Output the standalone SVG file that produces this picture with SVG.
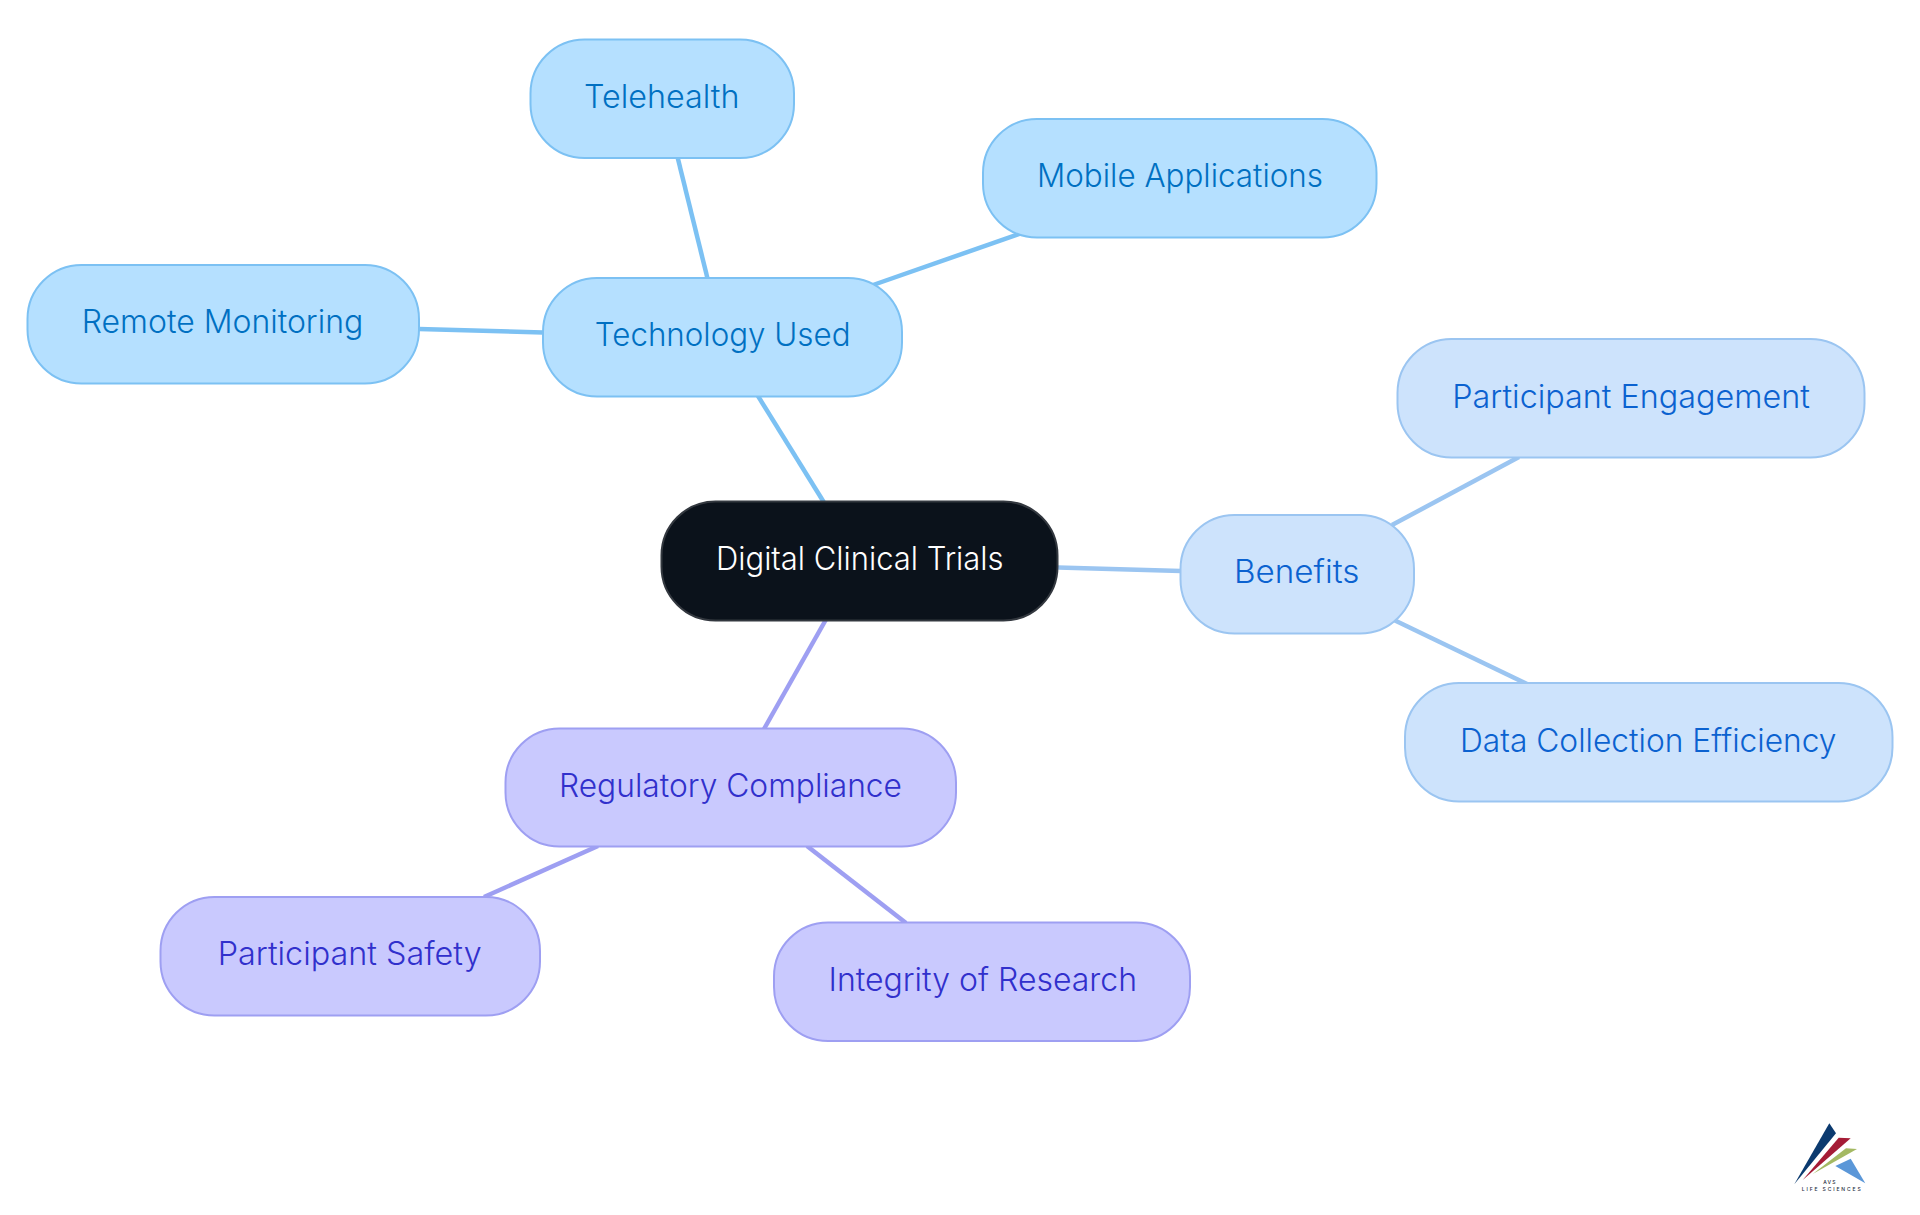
<svg xmlns="http://www.w3.org/2000/svg" width="1920" height="1215" viewBox="0 0 1920 1215">
<style>
text{font-family:Inter,"Noto Sans","Liberation Sans",sans-serif;font-size:32px;font-weight:300}
rect{stroke-width:2}
.e{fill:none;stroke-width:4.5;stroke-linecap:butt}
.ce1{stroke:#7cc1f3}.ce2{stroke:#9bc5f1}.ce3{stroke:#9e9ff2}
.n1 rect{fill:#b5e0ff;stroke:#7cc1f3}.n1 text{fill:#0070c2}
.n2 rect{fill:#cde3fc;stroke:#9bc5f1}.n2 text{fill:#0b62d0}
.n3 rect{fill:#c9c9fe;stroke:#9e9ff2}.n3 text{fill:#3130cc}
.root rect{fill:#0b121b;stroke:#33383f}.root text{fill:#fff}
.logo-t{font-size:5px;font-weight:500;fill:#1b2a3a;text-anchor:middle}
</style>
<rect width="1920" height="1215" fill="#fff" stroke="none"/>
<g id="connectors">
<line class="e ce1" x1="758" y1="396" x2="823.7" y2="502"/>
<line class="e ce1" x1="707.4" y1="278" x2="677.5" y2="157"/>
<line class="e ce1" x1="873" y1="285" x2="1022" y2="233"/>
<line class="e ce1" x1="543" y1="332.5" x2="419" y2="329"/>
<line class="e ce2" x1="1058" y1="567.5" x2="1181" y2="571"/>
<line class="e ce2" x1="1392" y1="525" x2="1519" y2="457"/>
<line class="e ce2" x1="1395" y1="620.5" x2="1527" y2="684"/>
<line class="e ce3" x1="825.7" y1="620" x2="764" y2="729"/>
<line class="e ce3" x1="598" y1="846" x2="484" y2="897"/>
<line class="e ce3" x1="807" y1="846" x2="906" y2="923"/>
</g>
<g id="root" class="root"><rect x="661.5" y="501.5" width="396" height="119" rx="54"/><text x="716" y="570" textLength="287.5" lengthAdjust="spacingAndGlyphs">Digital Clinical Trials</text></g>
<g id="tech" class="n1"><rect x="543" y="278" width="359" height="118.5" rx="54"/><text x="594.8" y="346.3" textLength="255.7" lengthAdjust="spacingAndGlyphs">Technology Used</text></g>
<g id="telehealth" class="n1"><rect x="530.5" y="39.5" width="263.5" height="118.5" rx="54"/><text x="584" y="107.7" textLength="155.5" lengthAdjust="spacingAndGlyphs">Telehealth</text></g>
<g id="mobile" class="n1"><rect x="983" y="119" width="393.5" height="118.5" rx="54"/><text x="1037" y="187.3" textLength="286" lengthAdjust="spacingAndGlyphs">Mobile Applications</text></g>
<g id="remote" class="n1"><rect x="27.5" y="265" width="391.5" height="118.5" rx="54"/><text x="81.7" y="332.7" textLength="281.5" lengthAdjust="spacingAndGlyphs">Remote Monitoring</text></g>
<g id="benefits" class="n2"><rect x="1180.5" y="515" width="233.5" height="118.5" rx="54"/><text x="1234" y="582.7" textLength="125.5" lengthAdjust="spacingAndGlyphs">Benefits</text></g>
<g id="engagement" class="n2"><rect x="1397.5" y="339" width="467" height="118.5" rx="54"/><text x="1452.3" y="407.7" textLength="357.5" lengthAdjust="spacingAndGlyphs">Participant Engagement</text></g>
<g id="efficiency" class="n2"><rect x="1405" y="683" width="487.5" height="118.5" rx="54"/><text x="1460" y="751.7" textLength="376.5" lengthAdjust="spacingAndGlyphs">Data Collection Efficiency</text></g>
<g id="regulatory" class="n3"><rect x="505.5" y="728.5" width="450.5" height="118" rx="54"/><text x="559" y="796.7" textLength="343" lengthAdjust="spacingAndGlyphs">Regulatory Compliance</text></g>
<g id="safety" class="n3"><rect x="160.5" y="897" width="379.5" height="118.5" rx="54"/><text x="217.7" y="965" textLength="264" lengthAdjust="spacingAndGlyphs">Participant Safety</text></g>
<g id="integrity" class="n3"><rect x="774" y="922.5" width="416" height="118.5" rx="54"/><text x="828.5" y="991" textLength="308.5" lengthAdjust="spacingAndGlyphs">Integrity of Research</text></g>
<g id="logo">
<polygon points="1829.3,1123.3 1836,1133.3 1794.3,1184.3" fill="#0b3a6f"/>
<polygon points="1838.7,1137.7 1850.7,1138.3 1802.7,1180" fill="#a51c36"/>
<polygon points="1846,1148.3 1857,1149 1812.7,1174" fill="#a4b963"/>
<polygon points="1850.7,1158.7 1865.3,1183.3 1835.3,1166" fill="#5b97d8"/>
<text class="logo-t" x="1830" y="1184" letter-spacing="1.2">AVS</text>
<text class="logo-t" x="1801.7" y="1191" style="text-anchor:start" textLength="59">LIFE SCIENCES</text>
</g>
</svg>
